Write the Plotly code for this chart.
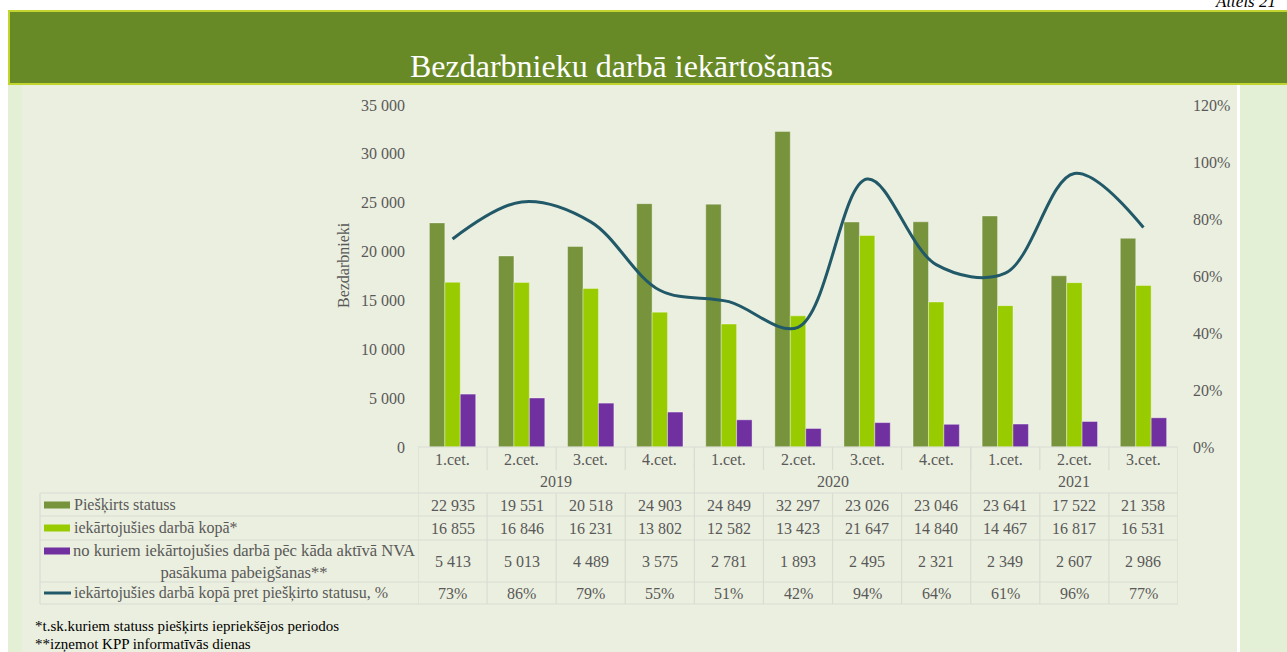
import plotly.graph_objects as go

# chart data
years = ["2019", "2020", "2021"]
year_quarter_count = [4, 4, 3]
quarters = ["1.cet.", "2.cet.", "3.cet.", "4.cet.",
            "1.cet.", "2.cet.", "3.cet.", "4.cet.",
            "1.cet.", "2.cet.", "3.cet."]
status = [22935, 19551, 20518, 24903, 24849, 32297, 23026, 23046, 23641, 17522, 21358]
employed = [16855, 16846, 16231, 13802, 12582, 13423, 21647, 14840, 14467, 16817, 16531]
after_nva = [5413, 5013, 4489, 3575, 2781, 1893, 2495, 2321, 2349, 2607, 2986]
share_pct = [73, 86, 79, 55, 51, 42, 94, 64, 61, 96, 77]

series_names = ["Piešķirts statuss", "iekārtojušies darbā kopā*",
                "no kuriem iekārtojušies darbā pēc kāda aktīvā NVA<br>pasākuma pabeigšanas**",
                "iekārtojušies darbā kopā pret piešķirto statusu, %"]
title = "Bezdarbnieku darbā iekārtošanās"
footnotes = ["*t.sk.kuriem statuss piešķirts iepriekšējos periodos",
             "**izņemot KPP informatīvās dienas"]

COLORS = ["#77933c", "#99cc00", "#7030a0", "#215968"]
FONT = "Liberation Serif"
GREY = "#595959"

W, H = 1287, 652
L, R, T, B = 418, 1178, 105, 447   # plot area in pixels

periods = []
k = 0
for y, n in zip(years, year_quarter_count):
    for _ in range(n):
        periods.append(f"{y} {quarters[k]}")
        k += 1
n_cat = len(periods)


def xp(px):
    return (px - L) / (R - L)


def yp(py):
    return (B - py) / (B - T)


def fmt(v):
    return f"{v:,}".replace(",", " ")


def label(text, x, y, xref="paper", font=None, **kw):
    d = dict(text=text, x=x, y=y, xref=xref, yref="paper", showarrow=False,
             xanchor="center", yanchor="middle", font=font)
    d.update(kw)
    return d


fig = go.Figure()
for vals, name, color in zip([status, employed, after_nva], series_names, COLORS):
    fig.add_trace(go.Bar(x=periods, y=vals, name=name, marker_color=color,
                         marker_line=dict(color="rgba(255,255,255,0.45)", width=0.8)))
fig.add_trace(go.Scatter(x=periods, y=[p / 100 for p in share_pct], yaxis="y2",
                         mode="lines", line=dict(color=COLORS[3], width=3,
                                                 shape="spline", smoothing=1.0)))

shapes = []
ann = []

# background panels and banner
shapes.append(dict(type="rect", xref="paper", yref="paper", x0=xp(8), x1=xp(1237),
                   y0=yp(660), y1=yp(85), fillcolor="#ebefdf", line_width=0, layer="below"))
shapes.append(dict(type="rect", xref="paper", yref="paper", x0=xp(8), x1=xp(22),
                   y0=yp(660), y1=yp(85), fillcolor="#e4f0d5", line_width=0, layer="below"))
shapes.append(dict(type="rect", xref="paper", yref="paper", x0=xp(1240), x1=xp(1295),
                   y0=yp(660), y1=yp(85), fillcolor="#e4f0d5", line_width=0, layer="below"))
shapes.append(dict(type="rect", xref="paper", yref="paper", x0=xp(9), x1=xp(1295),
                   y0=yp(84), y1=yp(11), fillcolor="#688a26",
                   line=dict(color="#c2d52e", width=2), layer="below"))
ann.append(label(title, xp(621), yp(66), font=dict(family=FONT, size=32, color="white")))
ann.append(label("<i>Attēls 21</i>", xp(1213), yp(1), xanchor="left",
                 font=dict(family=FONT, size=17, color="black")))

# y axis title
ann.append(label("Bezdarbnieki", xp(343), yp(265), textangle=-90,
                 font=dict(family=FONT, size=16, color=GREY)))

# data table grid
grid = dict(color="#d9dcd3", width=1.2)
for ry in [493, 516, 540, 582, 604]:
    shapes.append(dict(type="line", xref="paper", yref="paper", x0=xp(40), x1=xp(R),
                       y0=yp(ry), y1=yp(ry), line=grid))
shapes.append(dict(type="line", xref="paper", yref="paper", x0=xp(L), x1=xp(R),
                   y0=yp(B), y1=yp(B), line=grid))
shapes.append(dict(type="line", xref="paper", yref="paper", x0=xp(40), x1=xp(40),
                   y0=yp(493), y1=yp(604), line=grid))
for i in range(n_cat + 1):
    top = B if i in (0, n_cat) else 493
    shapes.append(dict(type="line", xref="x", yref="paper", x0=i - 0.5, x1=i - 0.5,
                       y0=yp(top), y1=yp(604), line=grid))
    if 0 < i < n_cat:
        shapes.append(dict(type="line", xref="x", yref="paper", x0=i - 0.5, x1=i - 0.5,
                           y0=yp(B), y1=yp(470), line=grid))
start = 0
for n in year_quarter_count[:-1]:
    start += n
    shapes.append(dict(type="line", xref="x", yref="paper", x0=start - 0.5, x1=start - 0.5,
                       y0=yp(B), y1=yp(493), line=grid))

cell_font = dict(family=FONT, size=16, color=GREY)
for i, q in enumerate(quarters):
    ann.append(label(q, i, yp(459), xref="x", font=cell_font))
start = 0
for y, n in zip(years, year_quarter_count):
    ann.append(label(y, start + (n - 1) / 2, yp(481), xref="x", font=cell_font))
    start += n

row_centers = [505, 528, 561, 593]
row_texts = [[fmt(v) for v in status], [fmt(v) for v in employed],
             [fmt(v) for v in after_nva], [f"{p}%" for p in share_pct]]
for rc, texts in zip(row_centers, row_texts):
    for i, t in enumerate(texts):
        ann.append(label(t, i, yp(rc), xref="x", font=cell_font))

# legend keys inside the table
for k, rc in enumerate(row_centers):
    ky = 551 if k == 2 else rc
    if k < 3:
        shapes.append(dict(type="rect", xref="paper", yref="paper", x0=xp(44), x1=xp(70),
                           y0=yp(ky + 3.5), y1=yp(ky - 3.5), fillcolor=COLORS[k], line_width=0))
    else:
        shapes.append(dict(type="line", xref="paper", yref="paper", x0=xp(44), x1=xp(71),
                           y0=yp(ky), y1=yp(ky), line=dict(color=COLORS[3], width=3)))
    if k == 2:
        ann.append(label(series_names[k], xp(244), yp(rc), align="center",
                         font=dict(family=FONT, size=16.6, color=GREY)))
    else:
        ann.append(label(series_names[k], xp(72), yp(rc), xanchor="left", font=cell_font))

for fy, ft in zip([626, 644], footnotes):
    ann.append(label(ft, xp(33), yp(fy), xanchor="left",
                     font=dict(family=FONT, size=15, color="black")))

fig.update_layout(
    width=W, height=H,
    margin=dict(l=L, r=W - R, t=T, b=H - B, pad=0),
    paper_bgcolor="white", plot_bgcolor="rgba(0,0,0,0)",
    barmode="group", bargap=0.33, bargroupgap=0,
    showlegend=False, separators=". ",
    font=dict(family=FONT, size=16, color=GREY),
    xaxis=dict(type="category", range=[-0.5, n_cat - 0.5], showticklabels=False,
               showgrid=False, zeroline=False, showline=False),
    yaxis=dict(range=[0, 35000], dtick=5000, tickformat=",d", showgrid=False,
               zeroline=False, showline=False, ticks="", ticklabelstandoff=12,
               tickfont=dict(family=FONT, size=16, color=GREY)),
    yaxis2=dict(range=[0, 1.2], dtick=0.2, tickformat=".0%", overlaying="y", side="right",
                showgrid=False, zeroline=False, showline=False, ticks="", ticklabelstandoff=14,
                tickfont=dict(family=FONT, size=16, color=GREY)),
    shapes=shapes, annotations=ann,
)

# drop the browser's default body margin so the figure sits at the page corner
fig.write_html("out.html", config={"displayModeBar": False},
               post_script="document.body.style.margin = '0';")
